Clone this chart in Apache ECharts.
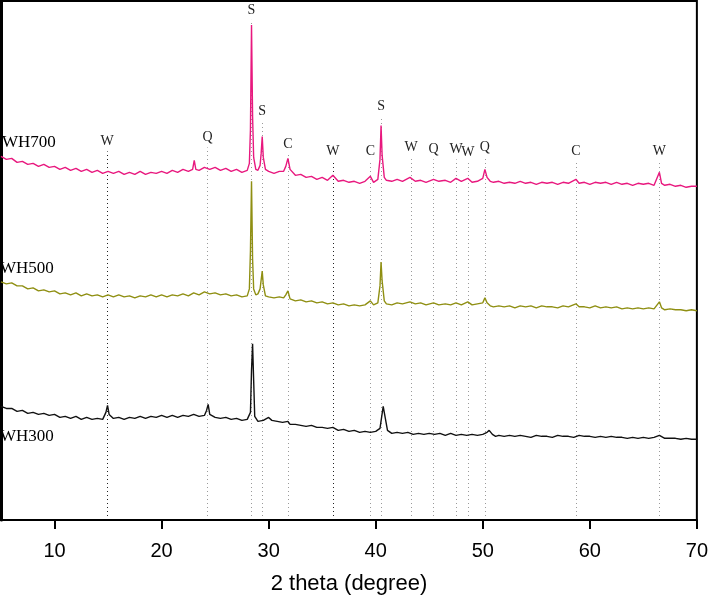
<!DOCTYPE html>
<html>
<head>
<meta charset="utf-8">
<script src="https://cdn.jsdelivr.net/npm/echarts@6/dist/echarts.min.js"></script>
<style>
  html, body { margin: 0; padding: 0; background: #fff; }
  #main { width: 711px; height: 600px; }
</style>
</head>
<body>
<div id="main"></div>
<script>
// intensity (arbitrary units, offset per sample)
const wh700 = [[5,365],[5.5,362],[6,363],[6.5,359],[7,360],[7.5,357],[8,358],[8.5,355],[9,357],[9.5,354],[10,355],[10.5,352],[11,354],[11.5,351],[12,353],[12.5,350],[13,352],[13.5,349],[14,351],[14.5,348],[15,350],[15.5,348],[16,350],[16.5,347],[17,349],[17.5,347],[18,350],[18.5,347],[19,349],[19.5,348],[20,350],[20.5,348],[21,351],[21.5,349],[22,352],[22.5,350],[22.9,352],[23.05,361],[23.2,352],[23.5,351],[24,354],[24.5,352],[25,354],[25.5,351],[26,353],[26.5,350],[27,352],[27.5,349],[28,351],[28.2,358],[28.3,392],[28.4,497],[28.5,405],[28.6,364],[28.8,352],[29,351],[29.2,356],[29.3,368],[29.4,385],[29.5,364],[29.7,352],[30,350],[30.5,348],[31,350],[31.4,350],[31.6,355],[31.8,363],[32,352],[32.5,346],[33,347],[33.5,344],[34,345],[34.5,342],[35,344],[35.5,341],[36,346],[36.5,340],[37,341],[37.5,339],[38,340],[38.5,338],[39,340],[39.5,345],[39.8,339],[40.2,342],[40.4,362],[40.5,396],[40.6,366],[40.8,344],[41,341],[41.5,340],[42,342],[42.5,340],[43.2,344],[43.7,340],[44.2,341],[44.7,339],[45.4,342],[45.9,340],[46.5,341],[47,339],[47.5,343],[48,340],[48.6,343],[49,339],[49.5,340],[50,343],[50.2,352],[50.4,344],[50.7,340],[51,339],[51.5,340],[52,338],[52.5,339],[53,338],[53.5,340],[54,338],[54.5,339],[55,337],[55.5,339],[56,338],[56.5,339],[57,337],[57.5,339],[58,338],[58.7,342],[59,338],[59.5,339],[60,337],[60.5,339],[61,338],[61.5,339],[62,337],[62.5,339],[63,337],[63.5,338],[64,336],[64.5,338],[65,337],[65.5,338],[66,336],[66.5,349],[66.7,338],[67,336],[67.5,337],[68,335],[68.5,336],[69,334],[69.5,335],[70,335]];

const wh500 = [[5,239],[5.5,237],[6,238],[6.5,235],[7,235],[7.5,232],[8,233],[8.5,230],[9,231],[9.5,229],[10,230],[10.5,227],[11,228],[11.5,226],[12,228],[12.5,225],[13,227],[13.5,225],[14,226],[14.5,224],[15,226],[15.5,224],[16,226],[16.5,224],[17,225],[17.5,223],[18,225],[18.5,224],[19,226],[19.5,224],[20,226],[20.5,224],[21,226],[21.5,225],[22,227],[22.5,225],[23,228],[23.5,226],[24,229],[24.5,227],[25,228],[25.5,226],[26,227],[26.5,225],[27,226],[27.5,224],[28,225],[28.2,232],[28.3,270],[28.4,340],[28.5,262],[28.6,232],[28.8,226],[29,227],[29.2,232],[29.4,250],[29.5,236],[29.7,225],[30,224],[30.5,223],[31,224],[31.4,223],[31.6,226],[31.8,230],[32,222],[32.5,220],[33,221],[33.5,219],[34,220],[34.5,218],[35,219],[35.5,217],[36,218],[36.5,216],[37,217],[37.5,215],[38,216],[38.5,215],[39,216],[39.5,220],[39.8,216],[40.2,218],[40.4,235],[40.5,259],[40.6,240],[40.8,220],[41,217],[41.5,216],[42,218],[42.5,217],[43.2,219],[43.7,217],[44.2,218],[44.7,216],[45.4,218],[45.9,216],[46.5,217],[47,216],[47.5,218],[48,216],[48.6,219],[49,216],[49.5,217],[50,218],[50.2,223],[50.4,218],[50.7,215],[51,214],[51.5,215],[52,214],[52.5,215],[53,213],[53.5,215],[54,214],[54.5,215],[55,213],[55.5,215],[56,214],[56.5,214],[57,213],[57.5,215],[58,214],[58.7,217],[59,214],[59.5,214],[60,213],[60.5,215],[61,213],[61.5,214],[62,213],[62.5,214],[63,212],[63.5,213],[64,212],[64.5,213],[65,212],[65.5,213],[66,212],[66.5,219],[66.7,213],[67,211],[67.5,212],[68,211],[68.5,211],[69,210],[69.5,211],[70,210]];

const wh300 = [[5,114],[5.5,112],[6,112],[6.5,109],[7,110],[7.5,107],[8,108],[8.5,106],[9,107],[9.5,105],[10,106],[10.5,103],[11,104],[11.5,102],[12,104],[12.5,101],[13,103],[13.5,101],[14,102],[14.5,101],[14.8,108],[14.95,115],[15.1,106],[15.5,102],[16,103],[16.5,101],[17,103],[17.5,102],[18,104],[18.5,102],[19,104],[19.5,103],[20,105],[20.5,103],[21,105],[21.5,103],[22,105],[22.5,104],[23,106],[23.5,104],[24,105],[24.2,110],[24.35,116],[24.5,106],[25,103],[25.5,102],[26,103],[26.5,101],[27,102],[27.5,100],[28,101],[28.3,108],[28.4,150],[28.5,177],[28.6,140],[28.7,104],[29,99],[29.5,100],[30,103],[30.3,100],[30.8,99],[31.3,98],[31.8,99],[32,96],[32.5,96],[33,95],[33.5,94],[34,95],[34.5,93],[35,93],[35.5,92],[36,93],[36.5,90],[37,91],[37.5,89],[38,90],[38.5,88],[39,89],[39.5,88],[40,89],[40.4,92],[40.7,114],[40.85,112],[41.1,90],[41.5,87],[42,88],[42.5,87],[43,88],[43.5,86],[44,87],[44.5,86],[45,87],[45.5,86],[46,87],[46.5,85],[47,87],[47.5,85],[48,86],[48.5,85],[49,86],[49.5,85],[50,86],[50.4,88],[50.6,90],[50.9,86],[51.2,84],[51.5,85],[52,84],[52.5,85],[53,84],[53.5,85],[54,84],[54.5,83],[55,85],[55.5,84],[56,84],[56.5,83],[57,85],[57.5,84],[58,84],[58.5,83],[59,85],[59.5,84],[60,84],[60.5,83],[61,84],[61.5,83],[62,84],[62.5,83],[63,83],[63.5,82],[64,83],[64.5,82],[65,83],[65.5,82],[66,83],[66.5,85],[67,82],[67.5,82],[68,82],[68.5,81],[69,82],[69.5,81],[70,81]];

// phase markers: position, letter, top of dotted line
const peakPos = [14.9, 24.3, 28.4, 29.4, 31.8, 36.0, 39.5, 40.5, 43.3, 45.4, 47.5, 48.6, 50.2, 58.7, 66.5];
const peakName = ['W', 'Q', 'S', 'S', 'C', 'W', 'C', 'S', 'W', 'Q', 'W', 'W', 'Q', 'C', 'W'];
const peakTop = [370, 374, 502, 400, 367, 360, 360, 405, 364, 362, 362, 359, 364, 360, 360];
const darkLines = [14.9, 36.0];

const xTicks = [10, 20, 30, 40, 50, 60, 70];
const sampleNames = ['WH700', 'WH500', 'WH300'];

const chart = echarts.init(document.getElementById('main'));

const markData = peakPos.map((p, i) => [
    { coord: [p, 4] },
    {
        coord: [p, peakTop[i]],
        name: peakName[i],
        lineStyle: { color: darkLines.includes(p) ? '#222' : '#9a9a9a' }
    }
]);

const serifLabel = '17px "Liberation Serif"';

const option = {
    backgroundColor: '#fff',
    animation: false,
    grid: {
        left: 1,
        right: 11,
        top: 1,
        bottom: 78,
        show: true,
        borderColor: '#000',
        borderWidth: 2
    },
    xAxis: {
        type: 'value',
        min: 5,
        max: 70,
        name: '2 theta (degree)',
        nameLocation: 'middle',
        nameGap: 53,
        nameTextStyle: { fontFamily: 'Liberation Sans', fontSize: 22, color: '#000' },
        axisLine: { show: true, lineStyle: { color: '#000', width: 2 } },
        axisTick: { show: true, customValues: xTicks, length: 9, lineStyle: { color: '#000', width: 2 } },
        axisLabel: {
            customValues: xTicks,
            margin: 21,
            fontFamily: '"Liberation Sans Narrow", "Liberation Sans"',
            fontSize: 20,
            color: '#000'
        },
        splitLine: { show: false }
    },
    yAxis: {
        type: 'value',
        min: 0,
        max: 521,
        axisLine: { show: true, lineStyle: { color: '#000', width: 3 } },
        axisTick: { show: false },
        axisLabel: { show: false },
        splitLine: { show: false }
    },
    graphic: [
        { type: 'text', left: 2, top: 134, style: { text: sampleNames[0], font: serifLabel, fill: '#000' } },
        { type: 'text', left: 0, top: 260, style: { text: sampleNames[1], font: serifLabel, fill: '#000' } },
        { type: 'text', left: 0, top: 428, style: { text: sampleNames[2], font: serifLabel, fill: '#000' } }
    ],
    series: [
        {
            name: sampleNames[2],
            type: 'line',
            data: wh300,
            showSymbol: false,
            lineStyle: { color: '#111', width: 1.4 },
            z: 3
        },
        {
            name: sampleNames[1],
            type: 'line',
            data: wh500,
            showSymbol: false,
            lineStyle: { color: '#8f8f12', width: 1.4 },
            z: 3
        },
        {
            name: sampleNames[0],
            type: 'line',
            data: wh700,
            showSymbol: false,
            lineStyle: { color: '#e8187e', width: 1.4 },
            z: 3,
            markLine: {
                silent: true,
                symbol: ['none', 'none'],
                z: 1,
                lineStyle: { type: [1, 3], width: 1 },
                label: {
                    show: true,
                    position: 'end',
                    distance: 3,
                    formatter: '{b}',
                    fontFamily: 'Liberation Serif',
                    fontSize: 14,
                    color: '#222'
                },
                data: markData
            }
        }
    ]
};

chart.setOption(option);
</script>
</body>
</html>
